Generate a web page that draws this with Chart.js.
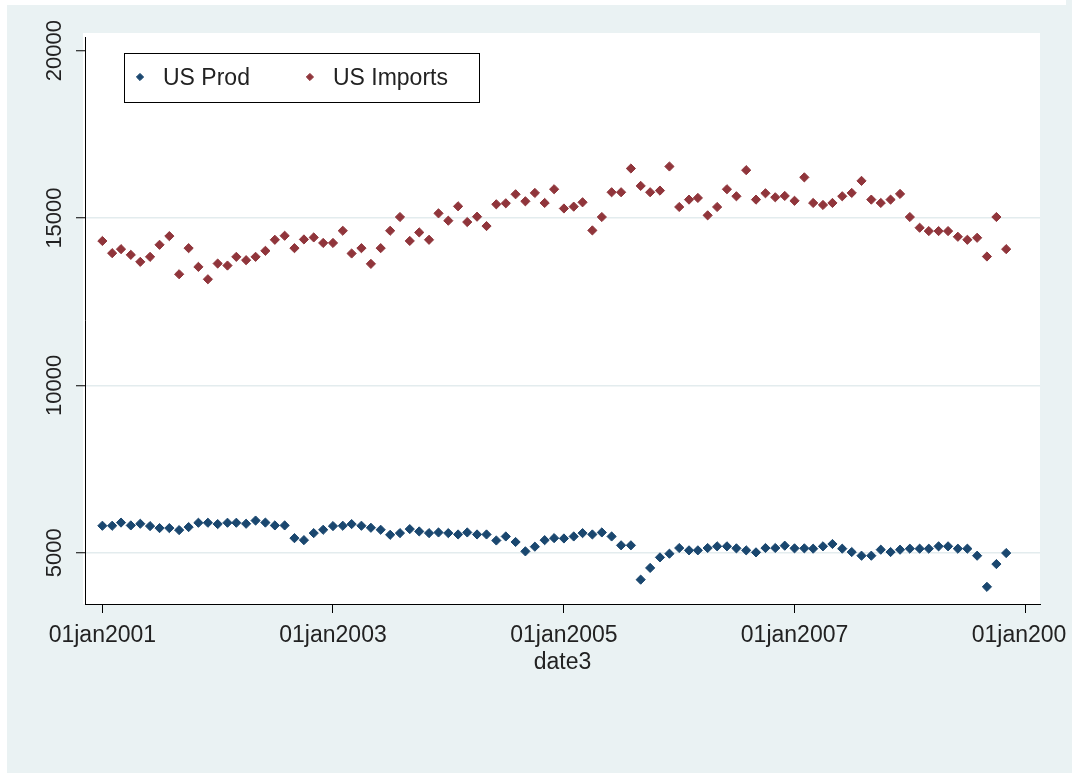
<!DOCTYPE html>
<html>
<head>
<meta charset="utf-8">
<script src="https://cdn.jsdelivr.net/npm/chart.js@4.4.1/dist/chart.umd.min.js"></script>
<style>
  html, body { margin: 0; padding: 0; background: #eaf2f3; }
  canvas { display: block; }
</style>
</head>
<body>
<canvas id="chart" width="1066" height="773"></canvas>
<script>
// Monthly series, January 2001 onward (one value per month)
const startYear = 2001;

const prodValues = [
  5805, 5805, 5900, 5815, 5865, 5795, 5735, 5735, 5675, 5765, 5895, 5895,
  5855, 5895, 5895, 5865, 5960, 5900, 5815, 5815, 5435, 5375, 5585, 5685,
  5795, 5805, 5855, 5805, 5745, 5685, 5535, 5585, 5705, 5635, 5585, 5605,
  5585, 5545, 5605, 5545, 5545, 5365, 5485, 5320, 5040, 5180, 5375, 5435,
  5425, 5485, 5585, 5545, 5605, 5485, 5220, 5220, 4195, 4545, 4860, 4970,
  5140, 5070, 5070, 5140, 5190, 5190, 5130, 5070, 5010, 5140, 5140, 5210,
  5130, 5130, 5120, 5190, 5260, 5120, 5020, 4910, 4910, 5090, 5020, 5090,
  5120, 5120, 5120, 5190, 5190, 5120, 5120, 4910, 3980, 4660, 4990
];

const importValues = [
  14314, 13950, 14070, 13900, 13690, 13840, 14200, 14460, 13320, 14100, 13540, 13170,
  13640, 13580, 13840, 13740, 13840, 14020, 14350, 14470, 14100, 14360, 14420, 14255,
  14255, 14620, 13940, 14100, 13630, 14100, 14620, 15030, 14315, 14570, 14350, 15140,
  14920, 15350, 14880, 15040, 14760, 15410, 15440, 15710, 15500, 15750, 15450, 15860,
  15285, 15340, 15470, 14630, 15030, 15770, 15770, 16480, 15960, 15770, 15820, 16540,
  15330, 15550, 15600, 15080, 15330, 15860, 15650, 16430, 15550, 15740, 15620, 15660,
  15515, 16215, 15450, 15390, 15450, 15650, 15750, 16110, 15550, 15450, 15550, 15720,
  15030, 14710, 14610, 14610, 14610, 14440, 14350, 14410, 13850, 15030, 14070
];

const seriesLabels = ['US Prod', 'US Imports'];
const seriesColors = ['#1a476f', '#90353b'];
const xTickYears = [2001, 2003, 2005, 2007, 2009];
const xTickLabels = ['01jan2001', '01jan2003', '01jan2005', '01jan2007', '01jan2009'];
const yTickValues = [5000, 10000, 15000, 20000];
const xTitle = 'date3';

// Dates are held as day counts from 01jan1960
const DAY_MS = 86400000;
const EPOCH = Date.UTC(1960, 0, 1);
function dayNumber(y, m, d) { return (Date.UTC(y, m - 1, d) - EPOCH) / DAY_MS; }

const monthDays = prodValues.map((_, i) =>
  dayNumber(startYear + Math.floor(i / 12), (i % 12) + 1, 1));
const xTickValues = xTickYears.map(y => dayNumber(y, 1, 1));

const FONT = "'Liberation Sans', Arial, Helvetica, sans-serif";
const TEXT = '#222222';
const BG = '#eaf2f3';
const GRID = '#e3ecee';

const backdrop = {
  id: 'backdrop',
  beforeDraw(chart) {
    const { ctx, chartArea: a } = chart;
    ctx.save();
    ctx.fillStyle = '#ffffff';
    ctx.fillRect(0, 0, chart.width, chart.height);
    ctx.fillStyle = BG;
    ctx.fillRect(7, 5, chart.width - 7, chart.height - 5);
    ctx.fillStyle = '#ffffff';
    ctx.fillRect(a.left - 2, a.top - 4, a.right - a.left + 2, a.bottom - a.top + 4);
    ctx.restore();
  }
};

// Boxed key in the upper-left corner of the plot region
const keyBox = {
  id: 'keyBox',
  afterDraw(chart) {
    const { ctx, chartArea: a } = chart;
    const left = a.left + 39, top = a.top + 16, w = 355, h = 49;
    ctx.save();
    ctx.fillStyle = '#ffffff';
    ctx.fillRect(left, top, w, h);
    ctx.strokeStyle = '#000000';
    ctx.lineWidth = 1;
    ctx.strokeRect(left + 0.5, top + 0.5, w, h);
    ctx.font = '23px ' + FONT;
    ctx.textBaseline = 'middle';
    ctx.textAlign = 'left';
    const cy = top + 25;
    let cursor = left;
    chart.data.datasets.forEach(ds => {
      ctx.fillStyle = ds.backgroundColor;
      ctx.strokeStyle = ds.backgroundColor;
      Chart.helpers.drawPoint(ctx, { pointStyle: 'rectRot', radius: 3.6, borderWidth: 1, rotation: 0 },
        cursor + 16, cy - 1);
      ctx.fillStyle = TEXT;
      ctx.fillText(ds.label, cursor + 39, cy + 1);
      cursor = cursor + 39 + ctx.measureText(ds.label).width + 44;
    });
    ctx.restore();
  }
};

const makeSet = (label, color, values) => ({
  label,
  data: values.map((v, i) => ({ x: monthDays[i], y: v })),
  backgroundColor: color,
  borderColor: color,
  pointStyle: 'rectRot',
  pointRadius: 4.6,
  pointBorderWidth: 1,
  pointHoverRadius: 4.6,
  showLine: false
});

new Chart(document.getElementById('chart'), {
  type: 'scatter',
  data: {
    datasets: [
      makeSet(seriesLabels[0], seriesColors[0], prodValues),
      makeSet(seriesLabels[1], seriesColors[1], importValues)
    ]
  },
  plugins: [backdrop, keyBox],
  options: {
    responsive: false,
    animation: false,
    devicePixelRatio: 1,
    events: [],
    layout: { padding: { left: 0, top: 37, right: 26, bottom: 0 } },
    plugins: { legend: { display: false }, tooltip: { enabled: false } },
    scales: {
      x: {
        type: 'linear',
        position: 'bottom',
        min: xTickValues[0] - 55,
        max: xTickValues[xTickValues.length - 1] + 46,
        afterBuildTicks: s => { s.ticks = xTickValues.map(v => ({ value: v })); },
        afterFit: s => { s.height = 169; s.paddingLeft = 0; s.paddingRight = 0; },
        ticks: {
          autoSkip: false,
          maxRotation: 0,
          padding: 9,
          color: TEXT,
          font: { family: FONT, size: 23 },
          callback: v => xTickLabels[xTickValues.indexOf(v)]
        },
        grid: { drawOnChartArea: false, tickLength: 9, tickColor: '#000000', tickWidth: 1 },
        border: { color: '#000000', width: 1 },
        title: {
          display: true,
          text: xTitle,
          color: TEXT,
          font: { family: FONT, size: 23 },
          padding: { top: 0, bottom: 97 }
        }
      },
      y: {
        type: 'linear',
        min: 3467,
        max: 20409,
        afterBuildTicks: s => { s.ticks = yTickValues.map(v => ({ value: v })); },
        afterFit: s => { s.width = 85; s.paddingTop = 0; s.paddingBottom = 0; },
        ticks: {
          minRotation: 90,
          maxRotation: 90,
          crossAlign: 'center',
          padding: -10,
          color: TEXT,
          font: { family: FONT, size: 22 },
          callback: v => String(v)
        },
        grid: {
          color: c => (c.tick && c.tick.value === 20000) ? 'rgba(0,0,0,0)' : GRID,
          lineWidth: 1.5,
          tickLength: 9,
          tickColor: '#000000',
          tickWidth: 1
        },
        border: { color: '#000000', width: 1 }
      }
    }
  }
});
</script>
</body>
</html>
